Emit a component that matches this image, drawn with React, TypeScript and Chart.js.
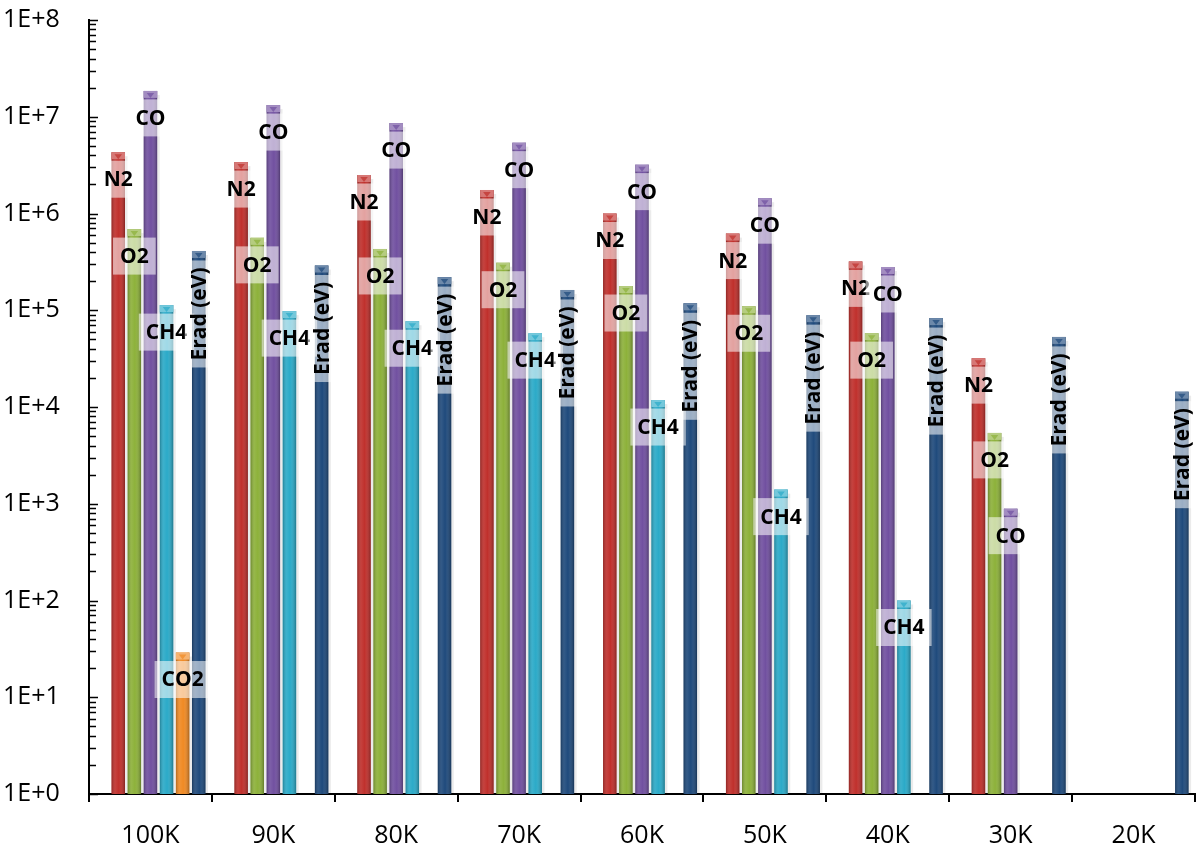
import React, { useEffect, useRef } from "react";
import { Chart, registerables } from "chart.js";

Chart.register(...registerables);

// data (log scale)
const categories = ["100K", "90K", "80K", "70K", "60K", "50K", "40K", "30K", "20K"];
const n2 = [4.3e6, 3.4e6, 2.5e6, 1.75e6, 1.0e6, 6.2e5, 3.2e5, 3.2e4, null];
const o2 = [6.9e5, 5.6e5, 4.3e5, 3.1e5, 1.78e5, 1.1e5, 5.8e4, 5.4e3, null];
const co = [1.85e7, 1.32e7, 8.6e6, 5.4e6, 3.2e6, 1.44e6, 2.8e5, 890, null];
const ch4 = [1.13e5, 9.8e4, 7.7e4, 5.8e4, 1.18e4, 1.4e3, 100, null, null];
const co2 = [29, null, null, null, null, null, null, null, null];
const erad = [4.1e5, 2.9e5, 2.2e5, 1.62e5, 1.18e5, 8.9e4, 8.3e4, 5.3e4, 1.44e4];
const yTickExponents = [0, 1, 2, 3, 4, 5, 6, 7, 8];

const seriesNames = ["N2", "O2", "CO", "CH4", "CO2", "Erad (eV)"];
const seriesColors = ["#C0302C", "#8DB13A", "#7150A0", "#2BAAC8", "#F08A24", "#1F4A7C"];
const seriesData = [n2, o2, co, ch4, co2, erad];

const LABEL_FONT = "bold 21px 'Open Sans', sans-serif";
const AXIS_FONT = { family: "'Open Sans', sans-serif", size: 25 };

function lighten(hex: string, amt: number) {
  const n = parseInt(hex.slice(1), 16);
  const r = (n >> 16) & 255, g = (n >> 8) & 255, b = n & 255;
  const f = (c: number) => Math.round(c + (255 - c) * amt);
  return `rgb(${f(r)},${f(g)},${f(b)})`;
}

// each bar element that carries a value, with its dataset index
function eachBar(chart: any, fn: (bar: any, di: number) => void) {
  chart.data.datasets.forEach((ds: any, di: number) => {
    if (!ds.label) return;
    const meta = chart.getDatasetMeta(di);
    meta.data.forEach((bar: any, i: number) => {
      if (ds.data[i] == null) return;
      fn(bar, di);
    });
  });
}

const barLook = {
  id: "barLook",
  beforeDatasetsDraw(chart: any) {
    const ctx = chart.ctx;
    ctx.save();
    ctx.fillStyle = "rgba(0,0,0,0.08)";
    eachBar(chart, (bar) => {
      const w = bar.width;
      ctx.fillRect(bar.x + w / 2, bar.y + 4, 2.5, bar.base - bar.y - 4);
    });
    ctx.restore();
  },
  afterDatasetsDraw(chart: any) {
    const ctx = chart.ctx;
    ctx.save();
    // cylinder shading
    eachBar(chart, (bar, di) => {
      const w = bar.width;
      const l = bar.x - w / 2;
      const g = ctx.createLinearGradient(l, 0, l + w, 0);
      g.addColorStop(0, "rgba(0,0,0,0.25)");
      g.addColorStop(0.3, "rgba(255,255,255,0.08)");
      g.addColorStop(0.55, "rgba(255,255,255,0.0)");
      g.addColorStop(1, "rgba(0,0,0,0.30)");
      ctx.fillStyle = g;
      ctx.fillRect(l, bar.y, w, bar.base - bar.y);
      // top cap
      const col = chart.data.datasets[di].backgroundColor;
      ctx.fillStyle = lighten(col, 0.35);
      ctx.fillRect(l, bar.y, w, 7);
      ctx.fillStyle = lighten(col, 0.1);
      ctx.beginPath();
      ctx.moveTo(l + 3, bar.y + 2);
      ctx.lineTo(l + w - 3, bar.y + 2);
      ctx.lineTo(bar.x, bar.y + 7);
      ctx.closePath();
      ctx.fill();
    });

    // series labels in translucent boxes
    ctx.font = LABEL_FONT;
    ctx.textAlign = "center";
    ctx.textBaseline = "middle";
    eachBar(chart, (bar, di) => {
      const text = chart.data.datasets[di].label;
      const tw = ctx.measureText(text).width;
      if (text.startsWith("Erad")) {
        const cy = bar.y + 63;
        ctx.save();
        ctx.translate(bar.x, cy);
        ctx.rotate(-Math.PI / 2);
        ctx.fillStyle = "rgba(255,255,255,0.55)";
        ctx.fillRect(-(tw + 14) / 2, -14, tw + 14, 28);
        ctx.fillStyle = "#000";
        ctx.fillText(text, 0, 1);
        ctx.restore();
      } else {
        const cy = bar.y + 27;
        ctx.fillStyle = "rgba(255,255,255,0.55)";
        ctx.fillRect(bar.x - (tw + 14) / 2, cy - 18.5, tw + 14, 37);
        ctx.fillStyle = "#000";
        ctx.fillText(text, bar.x, cy + 1);
      }
    });
    ctx.restore();
  },
  afterDraw(chart: any) {
    // log ticks (major and minor) pointing into the plot
    const ctx = chart.ctx;
    const y = chart.scales.y;
    const left = chart.chartArea.left;
    ctx.save();
    ctx.strokeStyle = "#000";
    ctx.lineWidth = 1.5;
    ctx.beginPath();
    yTickExponents.forEach((k) => {
      const steps = k === 8 ? [1] : [1, 2, 3, 4, 5, 6, 7, 8, 9];
      steps.forEach((m) => {
        const py = Math.round(y.getPixelForValue(m * Math.pow(10, k))) + 0.5;
        const len = m === 1 ? 9 : 7;
        ctx.moveTo(left, py);
        ctx.lineTo(left + len, py);
      });
    });
    ctx.stroke();
    ctx.restore();
  },
};

const App: React.FC = () => {
  const chartRef = useRef<HTMLCanvasElement | null>(null);

  useEffect(() => {
    if (!chartRef.current) return;
    const ctx = chartRef.current.getContext("2d");
    if (!ctx) return;

    const datasets: any[] = [
      // empty leading slot, shifts each group slightly right as in the original
      { label: "", data: categories.map(() => null), backgroundColor: "transparent" },
      ...seriesNames.map((name, i) => ({
        label: name,
        data: seriesData[i],
        backgroundColor: seriesColors[i],
        borderWidth: 0,
      })),
    ];

    const chartInstance = new Chart(ctx, {
      type: "bar",
      data: { labels: categories, datasets },
      options: {
        responsive: false,
        animation: false,
        layout: { padding: { top: 20, right: 5, left: 3, bottom: 0 } },
        datasets: { bar: { categoryPercentage: 0.917, barPercentage: 0.84 } },
        plugins: {
          legend: { display: false },
          tooltip: { enabled: false },
        },
        scales: {
          x: {
            grid: {
              display: true,
              drawOnChartArea: false,
              drawTicks: true,
              tickLength: 8,
              color: "#000",
              lineWidth: 2,
            },
            border: { display: true, color: "#000", width: 2 },
            ticks: { color: "#000", font: AXIS_FONT, padding: 19, maxRotation: 0 },
            afterFit: (scale: any) => {
              scale.height = 55;
            },
          },
          y: {
            type: "logarithmic",
            min: 1,
            max: 1e8,
            grid: { display: false, drawTicks: false },
            border: { display: true, color: "#000", width: 2 },
            afterBuildTicks: (scale: any) => {
              scale.ticks = yTickExponents.map((k) => ({ value: Math.pow(10, k) }));
            },
            ticks: {
              color: "#000",
              font: AXIS_FONT,
              padding: 0,
              crossAlign: "far",
              autoSkip: false,
              callback: (v: any) => "1E+" + Math.round(Math.log10(Number(v))),
            },
            afterFit: (scale: any) => {
              scale.width = 86;
            },
          },
        },
      },
      plugins: [barLook],
    });

    return () => {
      chartInstance.destroy();
    };
  }, []);

  return (
    <div style={{ position: "absolute", left: 0, top: 0, width: 1200, height: 849, background: "#fff" }}>
      <canvas ref={chartRef} width={1200} height={849} />
    </div>
  );
};

export default App;
